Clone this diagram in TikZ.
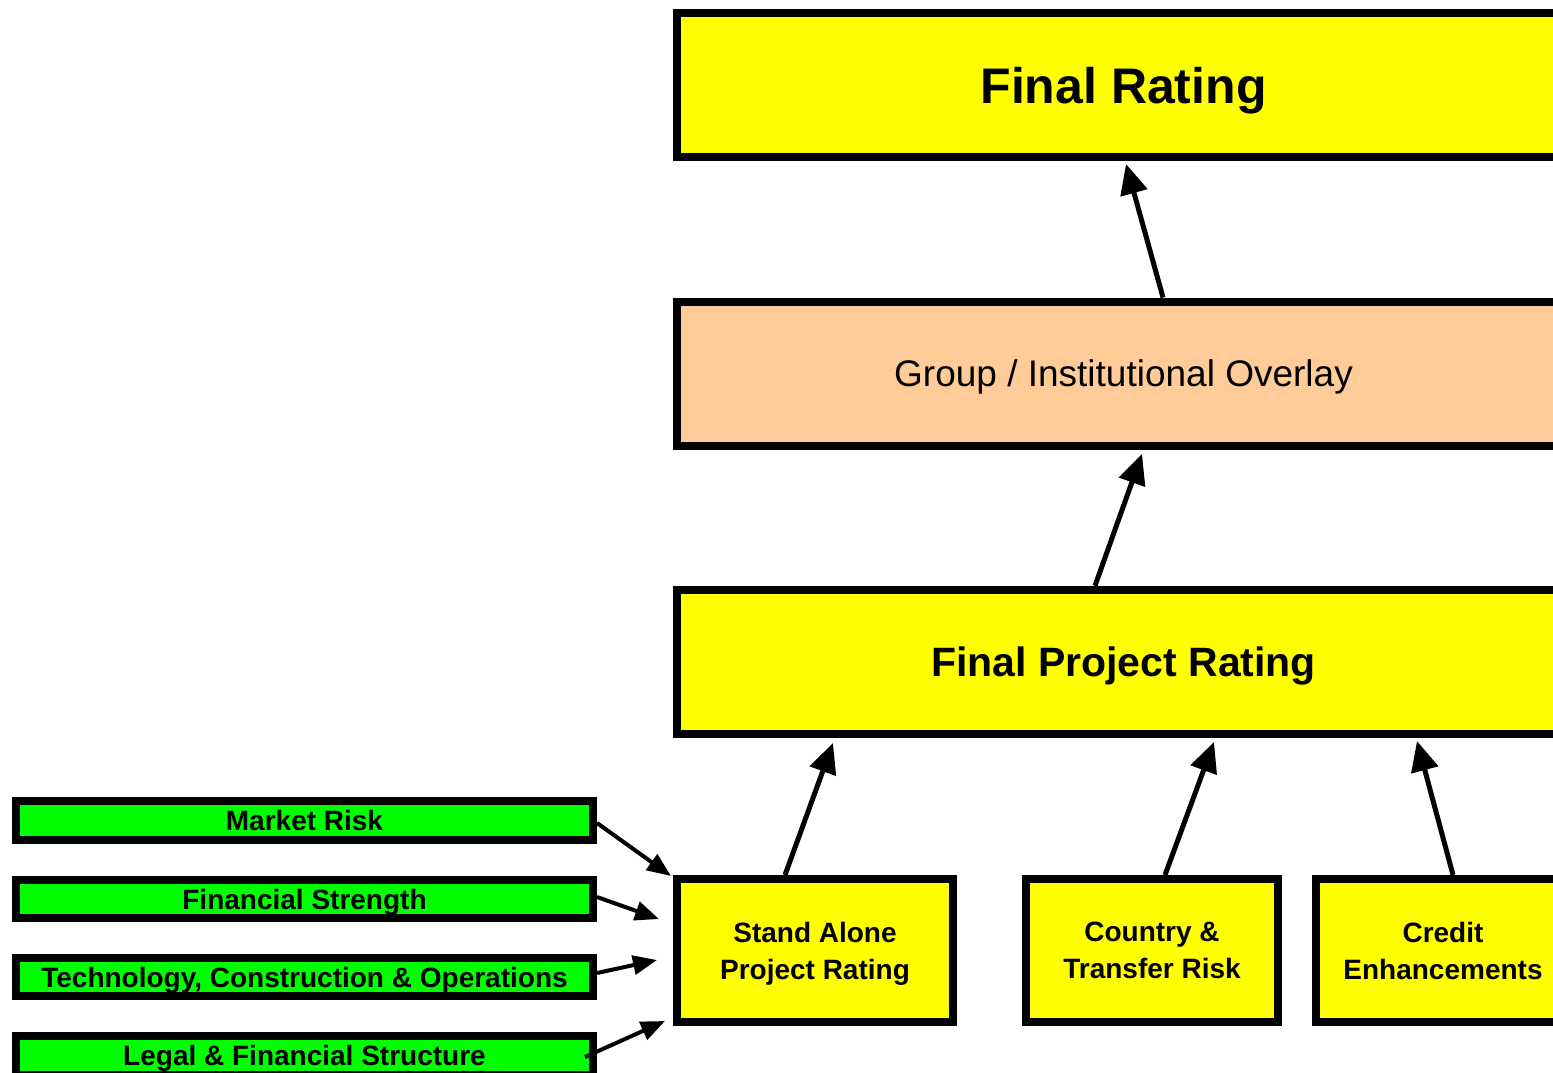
\documentclass[tikz,border=0pt]{standalone}
\usepackage{fontspec}
\setmainfont{Liberation Sans}
\usetikzlibrary{arrows.meta,calc}
\definecolor{yel}{HTML}{FFFF00}
\definecolor{grn}{HTML}{00FF00}
\definecolor{peach}{HTML}{FFCC99}
\begin{document}
\begin{tikzpicture}[x=1pt,y=-1pt,
  box/.style={draw=black,line width=8pt,rectangle,inner sep=0pt,align=center,text depth=0pt},
  bigbox/.style={box,minimum width=893pt,minimum height=144pt},
  smallbox/.style={box,fill=yel,minimum height=143pt,font=\fontsize{28}{37}\selectfont\bfseries},
  greenbox/.style={box,fill=grn,minimum width=577pt,minimum height=38.5pt,font=\fontsize{28}{30}\selectfont\bfseries},
  bigarr/.style={line width=5pt,-{Triangle[length=30pt,width=27pt]}},
  smallarr/.style={line width=4pt,-{Triangle[length=24pt,width=19pt]}}]
\useasboundingbox (0,0) rectangle (1553,1073);
\fill[white] (0,0) rectangle (1553,1073);
\clip (0,0) rectangle (1553,1073);

% main column
\node[bigbox,fill=yel,font=\fontsize{50}{60}\selectfont\bfseries] (fr) at (1123.5,85) {Final Rating};
\node[bigbox,fill=peach,font=\fontsize{37}{44}\selectfont] (grp) at (1123.5,373.5) {Group / Institutional Overlay};
\node[bigbox,fill=yel,font=\fontsize{41}{48}\selectfont\bfseries] (fpr) at (1123.5,661.75) {Final Project Rating};

% lower boxes
\node[smallbox,minimum width=276pt] (sa) at (815,950.5) {Stand Alone\\Project Rating};
\node[smallbox,minimum width=252pt] (ct) at (1152,950.5) {Country \&\\Transfer Risk};
\node[smallbox,minimum width=254pt] (ce) at (1443,950.5) {Credit\\Enhancements};

% green factor boxes
\node[greenbox] (mr) at (304.5,820.25) {Market Risk};
\node[greenbox] (fs) at (304.5,899) {Financial Strength};
\node[greenbox] (tc) at (304.5,977) {Technology, Construction \& Operations};
\node[greenbox] (lf) at (304.5,1055.5) {Legal \& Financial Structure};

% arrow coordinates
\coordinate (s1) at (1163,0);  \coordinate (t1) at (1126,164);
\coordinate (s2) at (1095,0);  \coordinate (t2) at (1142,454);
\coordinate (s3) at (785,0);   \coordinate (t3) at (833,743);
\coordinate (s4) at (1165,0);  \coordinate (t4) at (1214,742);
\coordinate (s5) at (1453,0);  \coordinate (t5) at (1417,741);
\coordinate (s6) at (0,823);   \coordinate (t6) at (671,876);
\coordinate (s7) at (0,897);   \coordinate (t7) at (659,919);
\coordinate (s8) at (0,973);   \coordinate (t8) at (657,960);
\coordinate (s9) at (0,1057);  \coordinate (t9) at (665,1021);

\draw[bigarr] (grp.north -| s1) -- (t1);
\draw[bigarr] (fpr.north -| s2) -- (t2);
\draw[bigarr] (sa.north -| s3) -- (t3);
\draw[bigarr] (ct.north -| s4) -- (t4);
\draw[bigarr] (ce.north -| s5) -- (t5);

\draw[smallarr] (mr.east |- s6) -- (t6);
\draw[smallarr] (fs.east |- s7) -- (t7);
\draw[smallarr] (tc.east |- s8) -- (t8);
\draw[smallarr] ($(lf.east |- s9)+(-12,0)$) -- (t9);
\end{tikzpicture}
\end{document}
